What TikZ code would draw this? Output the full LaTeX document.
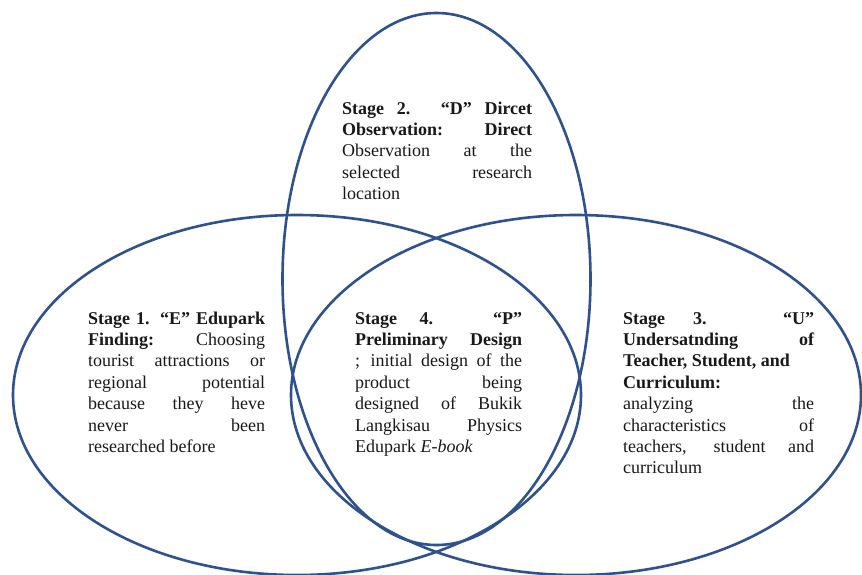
\documentclass[tikz,border=0pt]{standalone}
\usepackage{fontspec}
\setmainfont{Liberation Serif}
\usepackage{tikz}
\usetikzlibrary{positioning}
\definecolor{vennblue}{RGB}{47,82,143}
\definecolor{inkgray}{RGB}{25,25,25}
\hbadness=10000
\hfuzz=20pt

\tikzset{
  vennline/.style={draw=vennblue,line width=2.6pt},
  stagetext/.style={anchor=base west,inner sep=0pt,align=justify,text=inkgray,
                    font=\fontsize{18}{21.4}\selectfont}
}

\begin{document}
\begin{tikzpicture}[x=1pt,y=-1pt]
\useasboundingbox[fill=white] (0,0) rectangle (862,574);

\begin{scope}[vennline]
    \draw (436.5,279) ellipse [x radius=154, y radius=266];
    \draw (297,395) ellipse [x radius=284, y radius=180];
    \draw (576,395) ellipse [x radius=285, y radius=180];
\end{scope}

\begin{scope}[every node/.style={stagetext}]
    \node[text width=190pt] (S2) at (342,114)
        {\textbf{Stage 2. “D” Dircet\linebreak Observation: Direct}\linebreak
         Observation at the\linebreak selected research\linebreak location};

    \node[text width=177pt] (S1) at (88,324)
        {\textbf{Stage 1. “E” Edupark\linebreak Finding:} Choosing\linebreak
         tourist attractions or\linebreak regional potential\linebreak
         because they heve\linebreak never been\linebreak researched before};

    \node[text width=167pt] (S4) at (355,324)
        {\textbf{Stage 4. “P”\linebreak Preliminary Design}\linebreak
         ; initial design of the\linebreak product being\linebreak
         designed of Bukik\linebreak Langkisau Physics\linebreak
         Edupark \textit{E-book}};

    \node[text width=191pt] (S3) at (623,324)
        {\textbf{Stage 3. “U”\linebreak Undersatnding of\linebreak
         Teacher, Student, and\\ Curriculum:}\linebreak
         analyzing the\linebreak characteristics of\linebreak
         teachers, student and\linebreak curriculum};
\end{scope}
\end{tikzpicture}
\end{document}
